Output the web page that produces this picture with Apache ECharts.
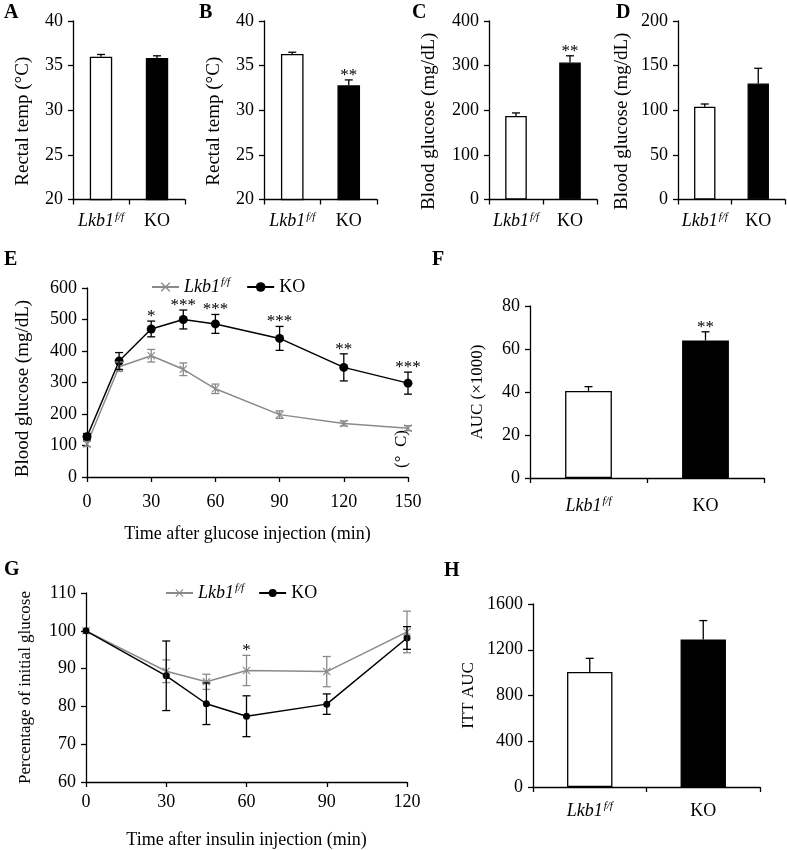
<!DOCTYPE html>
<html><head><meta charset="utf-8">
<script src="https://cdn.jsdelivr.net/npm/echarts@6/dist/echarts.min.js"></script>
<style>html,body{margin:0;padding:0;background:#fff}#c{width:787px;height:850px}</style>
</head><body><div id="c"></div>
<script>
// ---------- data ----------
const groups = ['Lkb1f/f', 'KO'];
const tempA = [36.0, 35.85];
const tempAErr = [0.25, 0.25];
const tempB = [36.3, 32.8];
const tempBErr = [0.2, 0.6];
const glucC = [187, 307];
const glucCErr = [7, 15];
const glucD = [104, 130];
const glucDErr = [3, 17];
const gttTime = [0, 15, 30, 45, 60, 90, 120, 150];
const gttLkb1 = [105, 350, 385, 342, 280, 198, 170, 155];
const gttLkb1Err = [8, 15, 20, 20, 15, 12, 8, 8];
const gttKO = [128, 368, 470, 500, 486, 440, 348, 298];
const gttKOErr = [10, 27, 25, 30, 30, 38, 43, 35];
const gttStars = ['', '', '*', '***', '***', '***', '**', '***'];
const aucF = [40.5, 64];
const aucFErr = [2, 4];
const ittTime = [0, 30, 45, 60, 90, 120];
const ittLkb1 = [100, 89.3, 86.5, 89.5, 89.2, 99.7];
const ittLkb1Err = [0, 3, 2, 4, 4, 5.5];
const ittKO = [100, 88.1, 80.7, 77.4, 80.6, 98.1];
const ittKOErr = [0, 9.2, 5.5, 5.4, 2.7, 3];
const ittStars = ['', '', '', '*', '', ''];
const aucH = [1005, 1290];
const aucHErr = [120, 165];

// ---------- styles ----------
const FONT = 'Liberation Serif';
const GRAY = '#8a8a8a';
const axisLineStyle = { color: '#000', width: 1.3 };
const rich = {
  i: { fontFamily: FONT, fontStyle: 'italic', fontSize: 18, color: '#000', lineHeight: 20 },
  s: { fontFamily: FONT, fontStyle: 'italic', fontSize: 11, color: '#000', verticalAlign: 'top', lineHeight: 20, padding: [0, 0, 8, 1] },
  n: { fontFamily: FONT, fontSize: 18, color: '#000', lineHeight: 20 }
};
function groupFmt(v) {
  return v.indexOf('Lkb1') === 0 ? '{i|Lkb1}{s|f/f}' : '{n|' + v.split('_')[0] + '}';
}

const grids = [
  { left: 73, top: 21, width: 112, height: 178.5 },
  { left: 264, top: 21, width: 113, height: 178.5 },
  { left: 489, top: 21, width: 108, height: 178.5 },
  { left: 678, top: 21, width: 107, height: 178.5 },
  { left: 87, top: 288, width: 321, height: 189 },
  { left: 530, top: 306, width: 234, height: 172 },
  { left: 86, top: 593, width: 321, height: 189 },
  { left: 533, top: 604, width: 227, height: 183 }
];

function catX(gi, margin) {
  return {
    type: 'category', gridIndex: gi, data: groups,
    axisLine: { show: true, lineStyle: axisLineStyle },
    axisTick: { show: true, length: 5, lineStyle: axisLineStyle },
    axisLabel: { interval: 0, margin: margin, formatter: groupFmt, rich: rich, fontFamily: FONT, fontSize: 18, color: '#000' }
  };
}
function valX(gi, max, margin) {
  return {
    type: 'value', gridIndex: gi, min: 0, max: max, interval: 30,
    axisLine: { show: true, lineStyle: axisLineStyle },
    axisTick: { show: true, length: 5, lineStyle: axisLineStyle },
    axisLabel: { margin: margin, fontFamily: FONT, fontSize: 18, color: '#000' },
    splitLine: { show: false }
  };
}
function valY(gi, min, max, interval, name, gap, nameSize, shift) {
  return {
    type: 'value', gridIndex: gi, min: min, max: max, interval: interval,
    name: name, nameLocation: 'middle', nameRotate: 90, nameGap: gap,
    nameTextStyle: { fontFamily: FONT, fontSize: nameSize, color: '#000', padding: [0, shift || 0, 0, 0] },
    axisLine: { show: true, lineStyle: axisLineStyle },
    axisTick: { show: true, length: 5, lineStyle: axisLineStyle },
    axisLabel: { margin: 10, fontFamily: FONT, fontSize: 18, color: '#000', formatter: v => String(v) },
    splitLine: { show: false }
  };
}

function barSeries(gi, vals) {
  return {
    type: 'bar', xAxisIndex: gi, yAxisIndex: gi, barWidth: '40%',
    data: vals.map((v, i) => ({
      value: v,
      itemStyle: { color: i === 0 ? '#fff' : '#000', borderColor: '#000', borderWidth: 1.3 }
    })),
    z: 2
  };
}
function errSeries(gi, xs, ys, es, color, both, stars) {
  return {
    type: 'custom', xAxisIndex: gi, yAxisIndex: gi, z: 6,
    data: xs.map((x, i) => [x, ys[i], es[i]]),
    renderItem: function (p, api) {
      const x = api.value(0), v = api.value(1), e = api.value(2);
      const top = api.coord([x, v + e]);
      const bot = api.coord([x, both ? v - e : v]);
      const cw = 4;
      const st = { stroke: color, lineWidth: 1.3 };
      const ch = [];
      if (e > 0) {
        ch.push({ type: 'line', shape: { x1: top[0], y1: top[1], x2: bot[0], y2: bot[1] }, style: st });
        ch.push({ type: 'line', shape: { x1: top[0] - cw, y1: top[1], x2: top[0] + cw, y2: top[1] }, style: st });
        if (both) ch.push({ type: 'line', shape: { x1: bot[0] - cw, y1: bot[1], x2: bot[0] + cw, y2: bot[1] }, style: st });
      }
      const s = stars && stars[p.dataIndex];
      if (s) {
        ch.push({ type: 'text', x: top[0], y: top[1] + 4,
          style: { text: s, fill: '#000', font: '17px "' + FONT + '"', align: 'center', verticalAlign: 'bottom' } });
      }
      return { type: 'group', children: ch };
    }
  };
}
const crossPath = 'path://M0,1L1,0L5,4L9,0L10,1L6,5L10,9L9,10L5,6L1,10L0,9L4,5Z';
const legendText = { rich: rich, fontFamily: FONT, fontSize: 18, color: '#000' };

const option = {
  backgroundColor: '#fff',
  animation: false,
  textStyle: { fontFamily: FONT },
  grid: grids,
  legend: [
    { data: ['Lkb1_E', 'KO_E'], left: 146, top: 272, itemWidth: 27, itemHeight: 12, itemGap: 16,
      formatter: groupFmt, textStyle: legendText, selectedMode: false },
    { data: ['Lkb1_G', 'KO_G'], left: 160, top: 578, itemWidth: 27, itemHeight: 10, itemGap: 14,
      formatter: groupFmt, textStyle: legendText, selectedMode: false }
  ],
  xAxis: [
    catX(0, 12), catX(1, 12), catX(2, 12), catX(3, 12),
    Object.assign(valX(4, 150, 16), { name: 'Time after glucose injection (min)', nameLocation: 'middle', nameGap: 48,
      nameTextStyle: { fontFamily: FONT, fontSize: 18, color: '#000' } }),
    catX(5, 18),
    Object.assign(valX(6, 120, 11), { name: 'Time after insulin injection (min)', nameLocation: 'middle', nameGap: 49,
      nameTextStyle: { fontFamily: FONT, fontSize: 18, color: '#000' } }),
    catX(7, 14)
  ],
  yAxis: [
    valY(0, 20, 40, 5, 'Rectal temp (°C)', 40, 19, 22),
    valY(1, 20, 40, 5, 'Rectal temp (°C)', 40, 19, 22),
    valY(2, 0, 400, 100, 'Blood glucose (mg/dL)', 50, 19, 22),
    valY(3, 0, 200, 50, 'Blood glucose (mg/dL)', 46, 19, 22),
    valY(4, 0, 600, 100, 'Blood glucose (mg/dL)', 54, 19, 12),
    valY(5, 0, 80, 20, 'AUC (×1000)', 44, 17, 0),
    valY(6, 60, 110, 10, 'Percentage of initial glucose', 52, 17, 0),
    valY(7, 0, 1600, 400, 'ITT AUC', 56, 17, 0)
  ],
  series: [
    barSeries(0, tempA), errSeries(0, [0, 1], tempA, tempAErr, '#000', false, null),
    barSeries(1, tempB), errSeries(1, [0, 1], tempB, tempBErr, '#000', false, ['', '**']),
    barSeries(2, glucC), errSeries(2, [0, 1], glucC, glucCErr, '#000', false, ['', '**']),
    barSeries(3, glucD), errSeries(3, [0, 1], glucD, glucDErr, '#000', false, null),
    {
      name: 'Lkb1_E', type: 'line', xAxisIndex: 4, yAxisIndex: 4, z: 3,
      data: gttTime.map((t, i) => [t, gttLkb1[i]]),
      symbol: crossPath, symbolSize: 8, itemStyle: { color: GRAY }, lineStyle: { color: GRAY, width: 1.5 }
    },
    errSeries(4, gttTime, gttLkb1, gttLkb1Err, GRAY, true, null),
    {
      name: 'KO_E', type: 'line', xAxisIndex: 4, yAxisIndex: 4, z: 4,
      data: gttTime.map((t, i) => [t, gttKO[i]]),
      symbol: 'circle', symbolSize: 9, itemStyle: { color: '#000' }, lineStyle: { color: '#000', width: 1.5 }
    },
    errSeries(4, gttTime, gttKO, gttKOErr, '#000', true, gttStars),
    barSeries(5, aucF), errSeries(5, [0, 1], aucF, aucFErr, '#000', false, ['', '**']),
    {
      name: 'Lkb1_G', type: 'line', xAxisIndex: 6, yAxisIndex: 6, z: 3,
      data: ittTime.map((t, i) => [t, ittLkb1[i]]),
      symbol: crossPath, symbolSize: 8, itemStyle: { color: GRAY }, lineStyle: { color: GRAY, width: 1.5 }
    },
    errSeries(6, ittTime, ittLkb1, ittLkb1Err, GRAY, true, ittStars),
    {
      name: 'KO_G', type: 'line', xAxisIndex: 6, yAxisIndex: 6, z: 4,
      data: ittTime.map((t, i) => [t, ittKO[i]]),
      symbol: 'circle', symbolSize: 7, itemStyle: { color: '#000' }, lineStyle: { color: '#000', width: 1.5 }
    },
    errSeries(6, ittTime, ittKO, ittKOErr, '#000', true, null),
    barSeries(7, aucH), errSeries(7, [0, 1], aucH, aucHErr, '#000', false, null)
  ],
  graphic: [
    ['A', 4, 13], ['B', 199, 13], ['C', 412, 13], ['D', 616, 13],
    ['E', 4, 260], ['F', 432, 260], ['G', 4, 570], ['H', 444, 571]
  ].map(d => ({
    type: 'text', left: d[1], top: d[2] - 10,
    style: { text: d[0], font: 'bold 20px "' + FONT + '"', fill: '#000' }
  })).concat([{
    type: 'text', x: 402, y: 449, rotation: Math.PI / 2,
    style: { text: '(°  C)', font: '17px "' + FONT + '"', fill: '#000', align: 'center', verticalAlign: 'middle' }
  }])
};
const chart = echarts.init(document.getElementById('c'), null, { renderer: 'canvas' });
chart.setOption(option);
</script></body></html>
